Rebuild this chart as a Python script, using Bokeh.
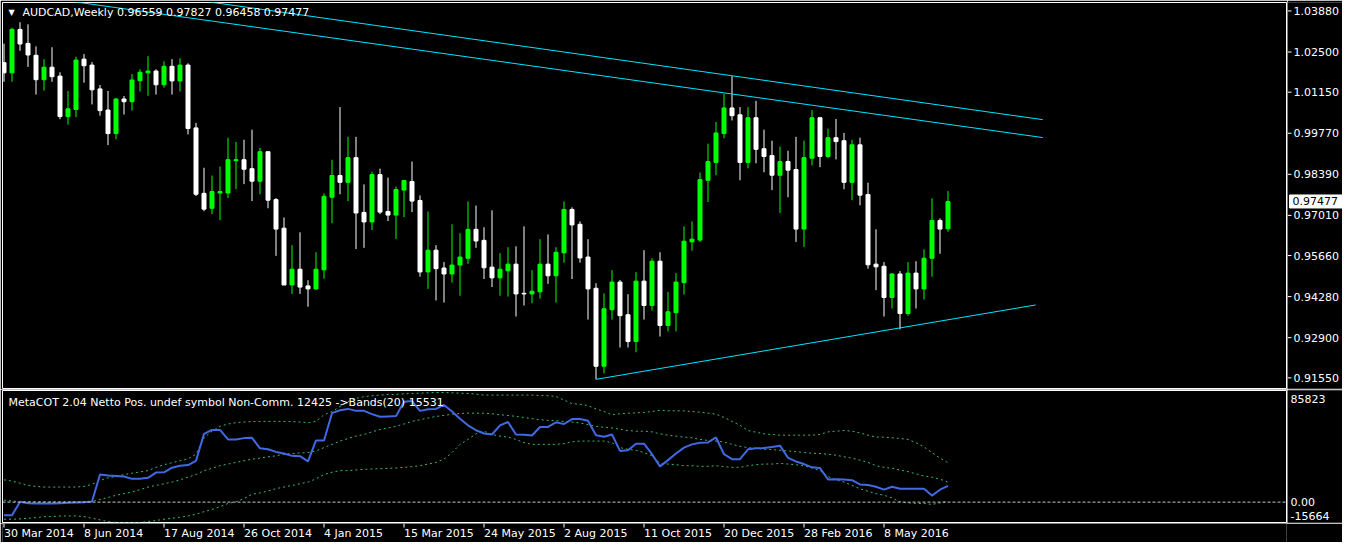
from bokeh.plotting import figure
from bokeh.layouts import column, row
from bokeh.models import ColumnDataSource, Label, Span, Range1d
from bokeh.embed import file_html
from bokeh.resources import INLINE
from bokeh.core.properties import value

# ---------------- data ----------------
chart_title = "AUDCAD,Weekly  0.96559 0.97827 0.96458 0.97477"
indicator_title = "MetaCOT 2.04 Netto Pos. undef symbol Non-Comm. 12425  ->Bands(20) 15531"

opens = [1.0214, 1.0180, 1.0326, 1.0279, 1.0239, 1.0157, 1.0199, 1.0169, 1.0033, 1.0057,
         1.0226, 1.0206, 1.0126, 1.0055, 0.9976, 1.0092, 1.0083, 1.0154, 1.0180, 1.0186,
         1.0140, 1.0202, 1.0153, 1.0206, 0.9995, 0.9775, 0.9725, 0.9776, 0.9776, 0.9885,
         0.9888, 0.9858, 0.9816, 0.9915, 0.9754, 0.9658, 0.9467, 0.9520, 0.9464, 0.9454,
         0.9518, 0.9762, 0.9835, 0.9812, 0.9895, 0.9711, 0.9679, 0.9838, 0.9714, 0.9702,
         0.9786, 0.9815, 0.9751, 0.9511, 0.9584, 0.9524, 0.9504, 0.9534, 0.9557, 0.9654,
         0.9617, 0.9527, 0.9491, 0.9515, 0.9537, 0.9439, 0.9437, 0.9444, 0.9537, 0.9498,
         0.9575, 0.9721, 0.9671, 0.9561, 0.9456, 0.9194, 0.9384, 0.9477, 0.9367, 0.9277,
         0.9480, 0.9398, 0.9547, 0.9331, 0.9374, 0.9475, 0.9612, 0.9618, 0.9819, 0.9879,
         0.9976, 1.0062, 1.0039, 0.9879, 1.0029, 0.9925, 0.9902, 0.9836, 0.9882, 0.9855,
         0.9655, 0.9893, 1.0029, 0.9899, 0.9962, 0.9952, 0.9812, 0.9938, 0.9771, 0.9537,
         0.9530, 0.9425, 0.9504, 0.9371, 0.9507, 0.9454, 0.9557, 0.9684, 0.96559]
highs = [1.0278, 1.0332, 1.0350, 1.0343, 1.0269, 1.0226, 1.0266, 1.0182, 1.0119, 1.0234,
         1.0243, 1.0216, 1.0139, 1.0119, 1.0096, 1.0102, 1.0176, 1.0192, 1.0236, 1.0192,
         1.0219, 1.0226, 1.0229, 1.0212, 1.0012, 0.9861, 0.9835, 0.9865, 0.9962, 0.9948,
         0.9955, 0.9989, 0.9928, 0.9915, 0.9759, 0.9694, 0.9601, 0.9644, 0.9483, 0.9577,
         0.9775, 0.9888, 1.0065, 0.9965, 0.9965, 0.9805, 0.9848, 0.9858, 0.9828, 0.9798,
         0.9818, 0.9882, 0.9768, 0.9714, 0.9601, 0.9544, 0.9671, 0.9641, 0.9748, 0.9734,
         0.9661, 0.9718, 0.9574, 0.9594, 0.9597, 0.9664, 0.9517, 0.9621, 0.9637, 0.9594,
         0.9748, 0.9728, 0.9681, 0.9621, 0.9473, 0.9439, 0.9517, 0.9484, 0.9436, 0.9510,
         0.9584, 0.9557, 0.9577, 0.9444, 0.9507, 0.9664, 0.9681, 0.9845, 0.9942, 1.0015,
         1.0109, 1.0169, 1.0065, 1.0065, 1.0086, 0.9989, 0.9952, 0.9932, 0.9918, 0.9965,
         0.9952, 1.0055, 1.0032, 0.9992, 1.0025, 0.9978, 0.9955, 0.9962, 0.9811, 0.9654,
         0.9544, 0.9507, 0.9514, 0.9544, 0.9547, 0.9587, 0.9758, 0.9691, 0.97827]
lows = [1.0150, 1.0150, 1.0254, 1.0200, 1.0107, 1.0120, 1.0150, 1.0024, 1.0006, 1.0031,
        1.0147, 1.0074, 1.0036, 0.9937, 0.9957, 1.0040, 1.0053, 1.0117, 1.0103, 1.0107,
        1.0130, 1.0107, 1.0117, 0.9973, 0.9766, 0.9715, 0.9705, 0.9685, 0.9759, 0.9789,
        0.9806, 0.9749, 0.9772, 0.9725, 0.9565, 0.9467, 0.9437, 0.9437, 0.9394, 0.9450,
        0.9488, 0.9675, 0.9772, 0.9749, 0.9588, 0.9592, 0.9652, 0.9705, 0.9682, 0.9622,
        0.9695, 0.9712, 0.9495, 0.9454, 0.9415, 0.9408, 0.9475, 0.9431, 0.9538, 0.9592,
        0.9487, 0.9460, 0.9431, 0.9428, 0.9361, 0.9398, 0.9406, 0.9421, 0.9471, 0.9408,
        0.9542, 0.9487, 0.9542, 0.9351, 0.9150, 0.9170, 0.9351, 0.9257, 0.9257, 0.9241,
        0.9351, 0.9381, 0.9294, 0.9311, 0.9311, 0.9435, 0.9582, 0.9612, 0.9746, 0.9836,
        0.9960, 1.0020, 0.9819, 0.9859, 0.9876, 0.9846, 0.9786, 0.9709, 0.9762, 0.9612,
        0.9595, 0.9869, 0.9863, 0.9893, 0.9889, 0.9789, 0.9752, 0.9735, 0.9522, 0.9450,
        0.9361, 0.9388, 0.9318, 0.9364, 0.9388, 0.9418, 0.9495, 0.9572, 0.96458]
closes = [1.0180, 1.0326, 1.0277, 1.0240, 1.0157, 1.0199, 1.0167, 1.0033, 1.0059, 1.0223,
          1.0204, 1.0123, 1.0053, 0.9976, 1.0092, 1.0083, 1.0156, 1.0182, 1.0186, 1.0140,
          1.0202, 1.0153, 1.0206, 0.9993, 0.9772, 0.9722, 0.9781, 0.9781, 0.9888, 0.9888,
          0.9856, 0.9816, 0.9915, 0.9752, 0.9655, 0.9467, 0.9520, 0.9460, 0.9454, 0.9520,
          0.9765, 0.9835, 0.9812, 0.9895, 0.9709, 0.9679, 0.9838, 0.9712, 0.9702, 0.9788,
          0.9818, 0.9749, 0.9511, 0.9584, 0.9522, 0.9504, 0.9534, 0.9561, 0.9654, 0.9615,
          0.9525, 0.9491, 0.9520, 0.9537, 0.9437, 0.9437, 0.9446, 0.9537, 0.9498, 0.9577,
          0.9721, 0.9669, 0.9558, 0.9454, 0.9194, 0.9387, 0.9477, 0.9364, 0.9277, 0.9480,
          0.9398, 0.9547, 0.9331, 0.9377, 0.9477, 0.9614, 0.9621, 0.9821, 0.9882, 0.9978,
          1.0062, 1.0036, 0.9879, 1.0029, 0.9923, 0.9899, 0.9836, 0.9882, 0.9853, 0.9655,
          0.9895, 1.0029, 0.9899, 0.9962, 0.9949, 0.9812, 0.9938, 0.9769, 0.9535, 0.9528,
          0.9425, 0.9504, 0.9371, 0.9507, 0.9454, 0.9557, 0.9684, 0.9655, 0.97477]

cot_net = [-10127, -10127, 226, -784, -1037, -1037, -1037, -784, -532, -280,
           -27, 478, 21183, 20426, 20173, 19668, 17901, 17901, 18658, 22698,
           22951, 26486, 28001, 28506, 31788, 52493, 55523, 55523, 48201, 48201,
           49211, 49463, 41383, 40626, 38606, 37343, 35576, 35323, 31283, 47443,
           47443, 68401, 70673, 71683, 70168, 70168, 67643, 65623, 65876, 66128,
           77238, 77743, 70168, 71431, 71683, 74713, 69663, 64108, 59058, 55270,
           52746, 51988, 59058, 61583, 51988, 51735, 51233, 57796, 57796, 61330,
           60068, 63856, 63856, 62593, 51483, 50221, 51988, 39363, 39868, 44918,
           44918, 36838, 27496, 32293, 37343, 41888, 44413, 45676, 45928, 49716,
           36838, 33051, 33051, 40626, 41383, 41636, 42393, 43403, 34061, 31283,
           29263, 26738, 26233, 17395, 17648, 17395, 16890, 13608, 13103, 11840,
           9568, 11840, 10323, 10323, 10323, 10323, 5020, 9568, 12425]
band_upper = [17140, 16140, 14620, 12850, 12090, 11590, 11590, 11590, 11590, 11590,
              12090, 13610, 16640, 18660, 19670, 21190, 22200, 23210, 24220, 26740,
              28760, 30270, 31790, 33310, 36840, 49470, 54520, 58300, 60070, 61080,
              61590, 61840, 62090, 62090, 62090, 62090, 61840, 61590, 61080, 62090,
              67140, 69660, 73450, 77240, 79760, 81030, 81790, 82290, 82800, 82800,
              83300, 83550, 83800, 84060, 84300, 84300, 84060, 83800, 83550, 83050,
              82290, 82290, 82290, 82290, 82290, 82290, 82290, 82040, 81790, 81280,
              78500, 75720, 75220, 74210, 71680, 69660, 67140, 67900, 68400, 68660,
              68910, 69660, 70670, 70170, 70170, 70170, 69660, 69160, 68400, 67640,
              65120, 62090, 59060, 55020, 53760, 52500, 51990, 51490, 51490, 51490,
              51490, 51490, 51990, 54010, 54520, 55020, 54520, 53250, 51490, 49970,
              49970, 49470, 48960, 48200, 45680, 42390, 38100, 33810, 30270]
band_middle = [1490, 980, 230, 230, 230, 230, 230, 230, 230, 230,
               230, 480, 1990, 3510, 5280, 6540, 7800, 9570, 11590, 12850,
               14120, 15380, 17140, 19170, 21190, 24220, 25980, 28000, 29270, 30530,
               31790, 33050, 33810, 34820, 35580, 36840, 37350, 37850, 38100, 39370,
               41890, 44410, 46940, 48960, 50730, 51990, 54010, 55780, 57040, 58300,
               60070, 62090, 63350, 64620, 65880, 66640, 67640, 68150, 68400, 68400,
               68400, 67900, 67140, 66640, 65880, 65120, 64110, 63350, 62850, 62600,
               62090, 61590, 60830, 59570, 58300, 57550, 57040, 56030, 55020, 54520,
               54520, 54010, 52500, 51490, 50730, 49970, 49470, 48200, 47440, 46940,
               46180, 44410, 42900, 41890, 41380, 40630, 40380, 39870, 39370, 38860,
               38100, 37600, 37350, 36840, 36080, 34820, 33810, 32300, 30530, 28000,
               26740, 25980, 24720, 23460, 21690, 20180, 19170, 17650, 15380]
band_lower = [-13150, -13150, -12900, -12400, -11890, -11140, -11140, -10630, -10630, -10630,
              -11140, -12400, -13660, -14920, -15660, -15660, -15660, -15660, -14920, -14170,
              -13150, -12400, -11640, -10630, -9370, -7350, -5580, -3560, -1040, 230,
              2750, 6040, 7050, 8560, 10330, 11590, 12850, 14120, 15380, 17900,
              21190, 22950, 24220, 24220, 24720, 25230, 25480, 25730, 25980, 26240,
              26740, 27250, 28000, 29270, 30530, 33050, 38100, 44410, 48200, 52500,
              54520, 51990, 50730, 49970, 48200, 45680, 44410, 44410, 44410, 44410,
              44920, 46430, 46940, 46940, 46940, 46940, 45680, 41890, 40630, 39870,
              38100, 35580, 29770, 29270, 28760, 28000, 28000, 27500, 27500, 28000,
              27250, 26740, 26740, 28000, 28760, 29270, 29270, 29770, 29270, 28760,
              28000, 26240, 24220, 19670, 17140, 15380, 12850, 10330, 8310, 6540,
              5280, 3260, 230, -530, -1040, -1040, -1790, -530, 730]

date_labels = ["30 Mar 2014", "8 Jun 2014", "17 Aug 2014", "26 Oct 2014", "4 Jan 2015",
               "15 Mar 2015", "24 May 2015", "2 Aug 2015", "11 Oct 2015", "20 Dec 2015",
               "28 Feb 2016", "8 May 2016"]
bars_per_label = 10

price_ticks = [1.0388, 1.0250, 1.0115, 0.9977, 0.9839, 0.9701, 0.9566, 0.9428, 0.9290, 0.9155]
price_low, price_high = 0.91192, 1.04164
cot_low, cot_high = -15664, 85823

# trend lines: (bar index, price) anchors
trend_upper_x = [20, 129.84]
trend_upper_y = [1.04398, 1.00227]
trend_lower_x = [0, 129.84]
trend_lower_y = [1.04520, 0.99625]
trend_support_x = [74, 128.96]
trend_support_y = [0.9150, 0.9400]

# ---------------- layout ----------------
FONT = "DejaVu Sans"
W = 1342
FRAME_W = 1284
BAR_PX = 8
AX_W = W - 2 - FRAME_W - 1
H1, H2, H3 = 389, 134, 19
x0 = -1.5 / BAR_PX
xr = Range1d(x0, x0 + FRAME_W / BAR_PX)

UP, DOWN, TREND = "#00FF00", "#FFFFFF", "#00E5FF"
TXT = dict(text_color="white", text_font=value(FONT), text_font_size="11px")


def base(width, height, x_range, y_range, bl, br, bt, bb, outline=True):
    p = figure(width=width, height=height, x_range=x_range, y_range=y_range,
               output_backend="svg", toolbar_location=None,
               x_axis_location=None, y_axis_location=None,
               min_border_left=bl, min_border_right=br,
               min_border_top=bt, min_border_bottom=bb)
    p.background_fill_color = "black"
    p.border_fill_color = "black"
    p.outline_line_color = "white" if outline else None
    p.outline_line_width = 1
    p.grid.visible = False
    return p


# ---- main price panel ----
yr1 = Range1d(price_low, price_high)
p1 = base(2 + FRAME_W + 1, H1, xr, yr1, 2, 1, 2, 1)

idx = list(range(len(opens)))
src = ColumnDataSource(dict(
    x=idx, o=opens, h=highs, l=lows, c=closes,
    top=[max(o, c) for o, c in zip(opens, closes)],
    bottom=[min(o, c) for o, c in zip(opens, closes)],
    color=[UP if c > o else DOWN for o, c in zip(opens, closes)],
))
p1.segment(x0="x", y0="l", x1="x", y1="h", line_color="color", line_width=1, source=src)
p1.vbar(x="x", top="top", bottom="bottom", width=0.5, fill_color="color",
        line_color="color", line_width=1, source=src)

for tx, ty in [(trend_upper_x, trend_upper_y), (trend_lower_x, trend_lower_y),
               (trend_support_x, trend_support_y)]:
    p1.line(tx, ty, line_color=TREND, line_width=1)

FRAME_H1 = H1 - 3
p1.add_layout(Label(x=6, y=FRAME_H1 - 10, x_units="screen", y_units="screen", text="\u25BC",
                    text_color="white", text_font=FONT, text_font_size="8px",
                    text_baseline="middle"))
p1.add_layout(Label(x=20, y=FRAME_H1 - 10, x_units="screen", y_units="screen", text=chart_title,
                    text_color="white", text_font=FONT, text_font_size="11px",
                    text_baseline="middle"))

# ---- price scale (right) ----
a1 = base(AX_W, H1, Range1d(0, AX_W), yr1, 0, 0, 2, 1, outline=False)
tick_src = ColumnDataSource(dict(y=price_ticks, label=["%.5f" % t for t in price_ticks]))
a1.segment(x0=0, y0="y", x1=4, y1="y", line_color="white", line_width=1, source=tick_src)
a1.text(x=6, y="y", text="label", text_baseline="middle", text_align="left",
        source=tick_src, **TXT)
last_close = closes[-1]
a1.rect(x=29, y=last_close, width=54, height=13, height_units="screen",
        fill_color="white", line_color="white")
a1.text(x=[5], y=[last_close], text=["%.5f" % last_close], text_baseline="middle",
        text_align="left", text_color="black", text_font=value(FONT), text_font_size="11px")

# ---- indicator panel ----
yr2 = Range1d(cot_low, cot_high)
p2 = base(2 + FRAME_W + 1, H2, xr, yr2, 2, 1, 1, 1)
p2.add_layout(Span(location=0, dimension="width", line_color="#C8C8C8",
                   line_dash="3 2", line_width=1))
for band in (band_upper, band_middle, band_lower):
    p2.line(idx, band, line_color="#3CB371", line_dash="2 3", line_width=1)
p2.line(idx, cot_net, line_color="#4169E1", line_width=2)
FRAME_H2 = H2 - 2
p2.add_layout(Label(x=6, y=FRAME_H2 - 12, x_units="screen", y_units="screen",
                    text=indicator_title, text_color="white", text_font=FONT,
                    text_font_size="11px", text_baseline="middle"))

a2 = base(AX_W, H2, Range1d(0, AX_W), yr2, 0, 0, 1, 1, outline=False)
rng = cot_high - cot_low
ind_ticks = [cot_high - 0.067 * rng, 0, cot_low + 0.052 * rng]
ind_labels = [str(cot_high), "0.00", str(cot_low)]
a2.text(x=3, y=ind_ticks, text=ind_labels, text_baseline="middle", text_align="left", **TXT)

# ---- time scale (bottom) ----
p3 = base(W, H3, xr, Range1d(-H3, 0), 2, W - 2 - FRAME_W, 0, 0, outline=False)
date_ticks = [i * bars_per_label for i in range(len(date_labels))]
p3.segment(x0=date_ticks, y0=0, x1=date_ticks, y1=-4, line_color="white", line_width=1)
p3.text(x=date_ticks, y=-10, text=date_labels, text_baseline="middle", text_align="left", **TXT)

layout = column(row(p1, a1), row(p2, a2), p3)
open("out.html", "w").write(file_html(layout, INLINE))
